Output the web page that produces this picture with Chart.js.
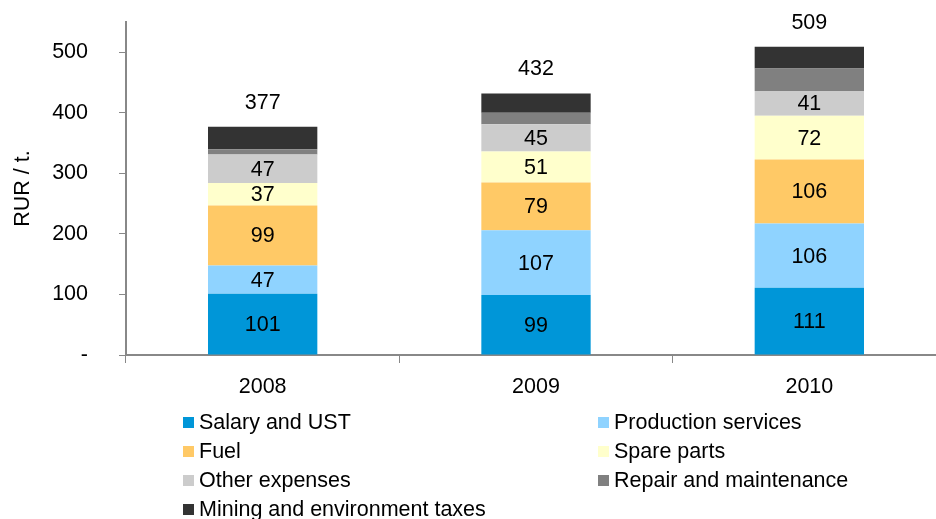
<!DOCTYPE html>
<html>
<head>
<meta charset="utf-8">
<script src="https://cdn.jsdelivr.net/npm/chart.js@4.4.1/dist/chart.umd.min.js"></script>
<style>
  html, body { margin: 0; padding: 0; background: #fff; overflow: hidden; }
  body { width: 936px; height: 519px; position: relative; font-family: "Liberation Sans", Arial, sans-serif; }
  #chart { position: absolute; left: 0; top: 0; }
  #legend { position: absolute; left: 0; top: 0; width: 936px; height: 519px; pointer-events: none; }
  .item { position: absolute; font-size: 21.5px; color: #000; line-height: 24px; white-space: nowrap; }
  .item span.box { display: inline-block; width: 11px; height: 11px; margin-right: 5px; vertical-align: 1px; }
</style>
</head>
<body>
<canvas id="chart" width="946" height="410"></canvas>
<div id="legend"></div>
<script>
// Kategorien und Werte (RUR / t.)
const years = ["2008", "2009", "2010"];
const salary = [101, 99, 111];
const production = [47, 107, 106];
const fuel = [99, 79, 106];
const spareParts = [37, 51, 72];
const otherExp = [47, 45, 41];
const repair = [9, 19, 37];
const mining = [37, 32, 36];
const totals = [377, 432, 509];
const yTicks = [0, 100, 200, 300, 400, 500];

const FONT = "Liberation Sans, Arial, sans-serif";
const FS = 21.5;

const series = [
  { label: "Salary and UST", data: salary, color: "#0096D8", show: true },
  { label: "Production services", data: production, color: "#8FD3FF", show: true },
  { label: "Fuel", data: fuel, color: "#FFC966", show: true },
  { label: "Spare parts", data: spareParts, color: "#FFFFCC", show: true },
  { label: "Other expenses", data: otherExp, color: "#CCCCCC", show: true },
  { label: "Repair and maintenance", data: repair, color: "#808080", show: false },
  { label: "Mining and environment taxes", data: mining, color: "#333333", show: false }
];

// Zahlen in den Segmenten + Summen oben
const labelPlugin = {
  id: "segLabels",
  afterDatasetsDraw(chart) {
    const ctx = chart.ctx;
    ctx.save();
    ctx.font = FS + "px " + FONT;
    ctx.fillStyle = "#000";
    ctx.textAlign = "center";
    ctx.textBaseline = "middle";
    chart.data.datasets.forEach((ds, i) => {
      if (!series[i].show) return;
      chart.getDatasetMeta(i).data.forEach((bar, j) => {
        ctx.fillText(String(ds.data[j]), bar.x, (bar.y + bar.base) / 2 + 1);
      });
    });
    const topMeta = chart.getDatasetMeta(chart.data.datasets.length - 1);
    topMeta.data.forEach((bar, j) => {
      ctx.fillText(String(totals[j]), bar.x, bar.y - 24);
    });
    ctx.restore();
  }
};

const ctx = document.getElementById("chart").getContext("2d");
window.chartInstance = new Chart(ctx, {
  type: "bar",
  data: {
    labels: years,
    datasets: series.map(s => ({
      label: s.label,
      data: s.data,
      backgroundColor: s.color,
      borderWidth: 0,
      barPercentage: 0.4,
      categoryPercentage: 1.0
    }))
  },
  options: {
    responsive: false,
    animation: false,
    devicePixelRatio: 1,
    layout: { padding: { left: 4, top: 22, right: 0, bottom: 0 } },
    scales: {
      x: {
        stacked: true,
        grid: { offset: true, drawOnChartArea: false, drawTicks: true, tickLength: 8, color: "#888" },
        border: { color: "#888", width: 2 },
        ticks: { color: "#000", font: { family: FONT, size: FS }, padding: 11 },
        afterFit: (scale) => {
          scale.height = 55;
          scale.paddingLeft = 0;
          scale.paddingRight = 0;
        }
      },
      y: {
        stacked: true,
        min: 0,
        max: 550,
        afterBuildTicks: (scale) => {
          scale.ticks = yTicks.map(v => ({ value: v }));
        },
        afterFit: (scale) => {
          scale.width = 122;
          scale.paddingTop = 0;
          scale.paddingBottom = 0;
        },
        grid: { drawOnChartArea: false, drawTicks: true, tickLength: 7, color: "#888" },
        border: { color: "#888", width: 2 },
        ticks: {
          color: "#000",
          font: { family: FONT, size: FS },
          padding: 31,
          callback: (v) => v === 0 ? "-" : String(v)
        },
        title: {
          display: true,
          text: "RUR / t.",
          color: "#000",
          font: { family: FONT, size: FS },
          padding: { top: 6, bottom: 0 }
        }
      }
    },
    plugins: {
      legend: { display: false },
      tooltip: { enabled: false }
    }
  },
  plugins: [labelPlugin]
});

// Legende in zwei Spalten
const legend = document.getElementById("legend");
const colX = [183, 598];
series.forEach((s, i) => {
  const el = document.createElement("div");
  el.className = "item";
  el.style.left = colX[i % 2] + "px";
  el.style.top = (410 + Math.floor(i / 2) * 29) + "px";
  el.innerHTML = `<span class="box" style="background:${s.color}"></span>${s.label}`;
  legend.appendChild(el);
});
</script>
</body>
</html>
